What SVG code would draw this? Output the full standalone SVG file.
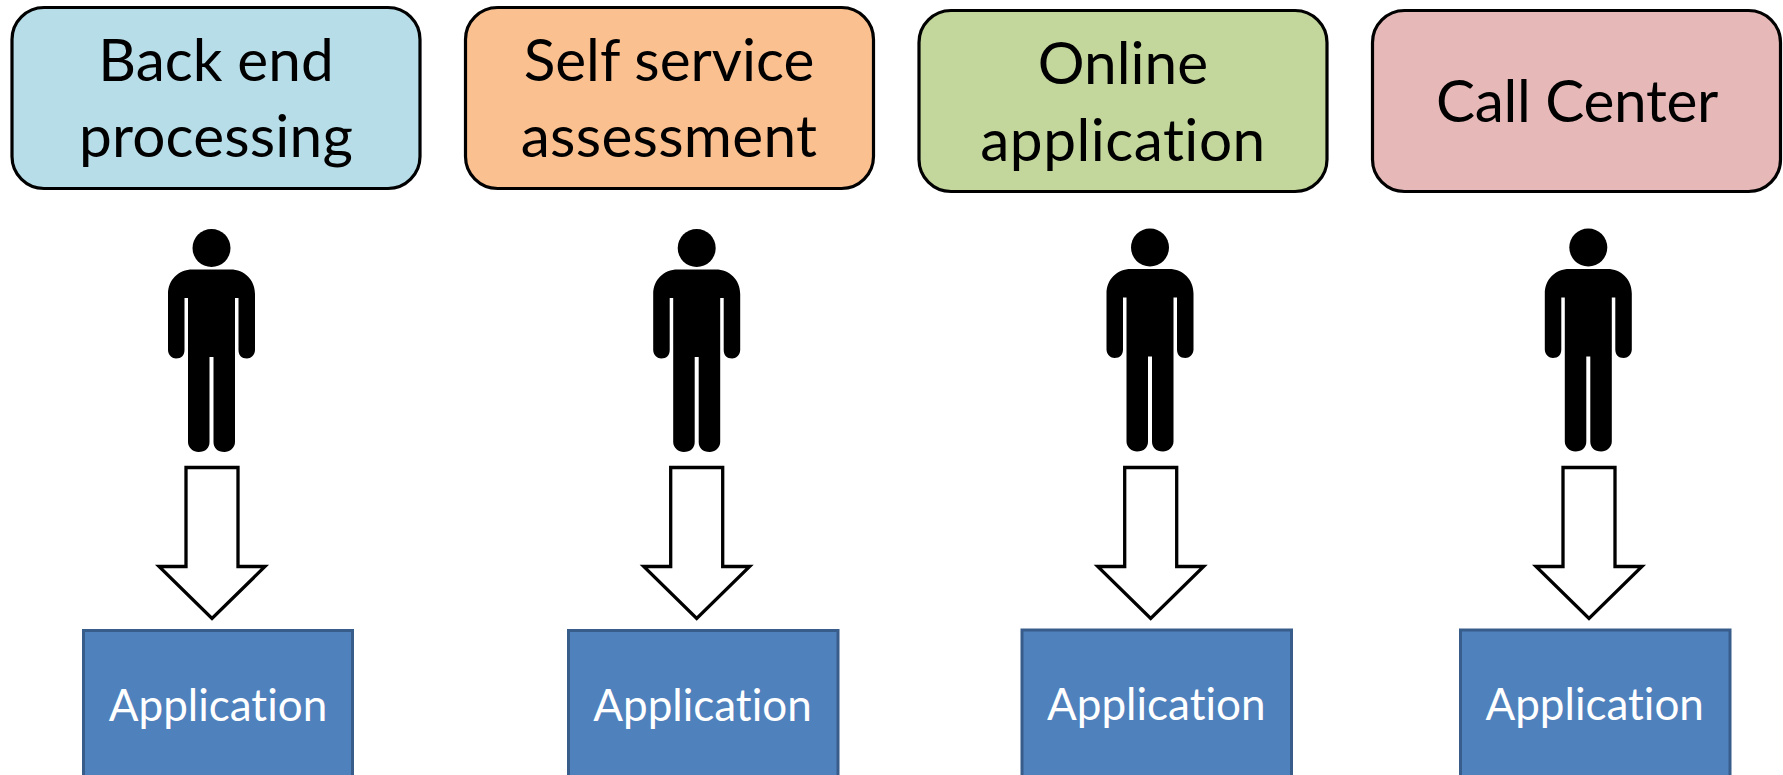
<svg xmlns="http://www.w3.org/2000/svg" width="1783" height="775" viewBox="0 0 1783 775">
<style>
.box{stroke:#000;stroke-width:3.200}
.t{font-family:"Lato","Liberation Sans",sans-serif;font-size:58.500px;fill:#000;text-anchor:middle;font-variant-ligatures:none}
.app{fill:#4f81bd;stroke:#385d8a;stroke-width:3}
.at{font-family:"Lato","Liberation Sans",sans-serif;font-size:44px;fill:#fff;text-anchor:middle;font-variant-ligatures:none}
.arrow{fill:#fff;stroke:#000;stroke-width:3.300}
</style>
<defs>
<g id="person">
<circle cx="0" cy="248" r="19"/>
<path d="M-19 269.500H19C33 269.500 43.500 280 43.500 294V350C43.500 355 39 358.500 35.500 358.500C30 358.500 27 355 27 350V298H23.500V442C23.500 448 18 452 13 452C6 452 2 448 2 442V357H-2V442C-2 448 -6 452 -13 452C-18 452 -23.500 448 -23.500 442V298H-27V350C-27 355 -30 358.500 -35.500 358.500C-39 358.500 -43.500 355 -43.500 350V294C-43.500 280 -33 269.500 -19 269.500Z"/>
</g>
<path id="arr" d="M-26 467.500H26V566.500H53L0 618.500L-53 566.500H-26Z"/>
</defs>
<g id="connectors">
<use href="#arr" class="arrow" x="212"/>
<use href="#arr" class="arrow" x="696.700"/>
<use href="#arr" class="arrow" x="1150.700"/>
<use href="#arr" class="arrow" x="1589"/>
</g>
<g id="node1"><rect class="box" x="12" y="7.500" width="408" height="181" rx="32" fill="#b7dde8"/><text class="t" x="216" y="81">Back end</text><text class="t" x="216" y="157" letter-spacing="0.200">processing</text></g>
<g id="node2"><rect class="box" x="465.500" y="7.500" width="408" height="181" rx="32" fill="#fac090"/><text class="t" x="669" y="81">Self service</text><text class="t" x="669" y="157" letter-spacing="0.300">assessment</text></g>
<g id="node3"><rect class="box" x="919" y="10.500" width="408" height="181" rx="32" fill="#c3d69b"/><text class="t" x="1123" y="83.500">Online</text><text class="t" x="1123" y="160.500" letter-spacing="0.500">application</text></g>
<g id="node4"><rect class="box" x="1372.500" y="10.500" width="408" height="181" rx="32" fill="#e6b9b8"/><text class="t" x="1577" y="122" letter-spacing="-0.300">Call Center</text></g>
<g id="person1"><use href="#person" x="211.500"/></g>
<g id="person2"><use href="#person" x="696.700"/></g>
<g id="person3"><use href="#person" x="1150" y="-0.500"/></g>
<g id="person4"><use href="#person" x="1588.300" y="-0.500"/></g>
<g id="app1"><rect class="app" x="83.500" y="630.500" width="269" height="160"/><text class="at" x="218" y="721">Application</text></g>
<g id="app2"><rect class="app" x="568.500" y="630.500" width="269.500" height="160"/><text class="at" x="702.500" y="721">Application</text></g>
<g id="app3"><rect class="app" x="1022" y="630" width="269.500" height="160"/><text class="at" x="1156.300" y="720">Application</text></g>
<g id="app4"><rect class="app" x="1460.500" y="630" width="269.500" height="160"/><text class="at" x="1594.700" y="720">Application</text></g>
</svg>
